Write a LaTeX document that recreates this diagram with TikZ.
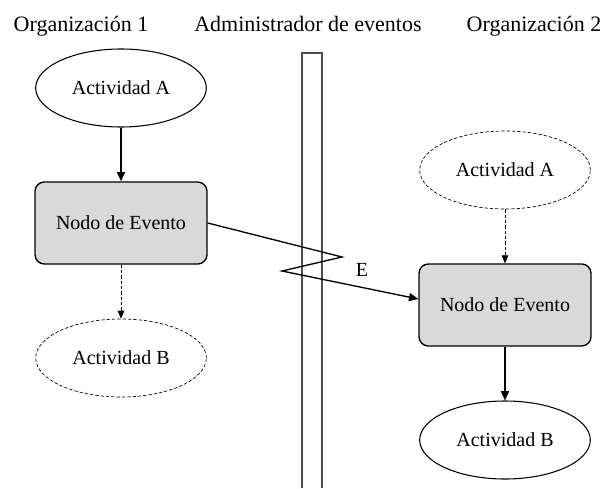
\documentclass[tikz,border=0pt]{standalone}
\usepackage{fontspec}
\setmainfont{Liberation Serif}
\usetikzlibrary{positioning,arrows.meta,shapes.geometric}
\begin{document}
\begin{tikzpicture}[x=0.75pt,y=-0.75pt]

			\tikzstyle{title}=[anchor=base,font=\fontsize{16.5}{19}\selectfont]
			\tikzstyle{activity}=[ellipse,draw=black,line width=0.8pt,
				minimum width=128pt,minimum height=58.5pt,
				node distance=101.25pt,
				font=\fontsize{15}{18}\selectfont]
			\tikzstyle{optional}=[activity,dash pattern=on 2.5pt off 1.5pt,line width=0.5pt]
			\tikzstyle{eventnode}=[rectangle,rounded corners=7pt,fill=black!15,draw=black,
				line width=1pt,minimum width=129pt,minimum height=61.5pt,
				node distance=101.25pt,
				font=\fontsize{15}{18}\selectfont]
			\tikzstyle{flow}=[-{Triangle[length=7pt,width=6pt]},line width=1.1pt]
			\tikzstyle{maybe}=[-{Triangle[length=6pt,width=5pt]},line width=0.5pt,dash pattern=on 2.5pt off 1.5pt]

			\useasboundingbox (0,0) rectangle (605,488);

			\node[title]	(org1)	at (81,32)	{Organización 1};
			\node[title]	(admin)	at (308,32)	{Administrador de eventos};
			\node[title]	(org2)	at (534,32)	{Organización 2};

			% bus of the event manager
			\draw[black!70,line width=1pt] (302,488) -- (302,53) -- (322,53) -- (322,488);

			\node[activity]			(a1)	at (121,88)	{Actividad A};
			\node[eventnode,below of=a1]	(ev1)	{Nodo de Evento};
			\node[optional,below of=ev1]	(b1)	{Actividad B};

			\node[optional]			(a2)	at (505,170)	{Actividad A};
			\node[eventnode,below of=a2]	(ev2)	{Nodo de Evento};
			\node[activity,below of=ev2]	(b2)	{Actividad B};

			\draw[flow]	(a1) -- (ev1);
			\draw[maybe]	(ev1) -- (b1);
			\draw[maybe]	(a2) -- (ev2);
			\draw[flow]	(ev2) -- (b2);

			\coordinate (z1) at (342,257);
			\coordinate (z2) at (282,271);
			\draw[flow,line width=1pt] (ev1.east) -- (z1) -- (z2) -- ([yshift=4.5pt]ev2.west);
			\node[font=\fontsize{15}{18}\selectfont] (lblE) at (362,270) {E};

		\end{tikzpicture}
\end{document}
